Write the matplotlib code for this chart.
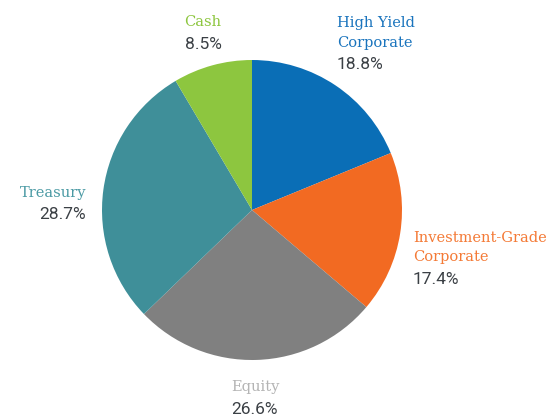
import matplotlib.pyplot as plt

# data
categories = ['High Yield\nCorporate', 'Investment-Grade\nCorporate', 'Equity', 'Treasury', 'Cash']
values = [18.8, 17.4, 26.6, 28.7, 8.5]
pct_labels = ['18.8%', '17.4%', '26.6%', '28.7%', '8.5%']

slice_colors = ['#0a6eb6', '#f26a22', '#808080', '#3f8f99', '#8dc63f']
label_colors = ['#1a74bd', '#f47a36', '#b4b4b4', '#4b9aa4', '#8dc63f']
pct_color = '#3b4045'

W, H = 550, 418
fig = plt.figure(figsize=(W / 100, H / 100), dpi=100)
ax = fig.add_axes([0, 0, 1, 1])

ax.pie(values, colors=slice_colors, startangle=90, counterclock=False,
       center=(252, H - 210), radius=150, wedgeprops=dict(linewidth=0))
ax.set_xlim(0, W)
ax.set_ylim(0, H)
ax.set_aspect('equal')
ax.axis('off')

name_font = dict(family='DejaVu Serif', size=10.5)
pct_font = dict(family='Roboto', size=12.5)

# label positions in pixel coords: (x, y of name first line, align)
label_pos = [
    (337, 21, 'left'),
    (413, 236, 'left'),
    (255, 386, 'center'),
    (86, 191, 'right'),
    (203, 21, 'center'),
]

for i, (x, y, ha) in enumerate(label_pos):
    lines = categories[i].split('\n')
    for k, line in enumerate(lines):
        ax.text(x, H - (y + 20 * k), line, color=label_colors[i], ha=ha,
                va='center_baseline', fontdict=name_font)
    py = y + 20 * (len(lines) - 1) + 22
    ax.text(x, H - py, pct_labels[i], color=pct_color, ha=ha,
            va='center_baseline', fontdict=pct_font)

fig.savefig('out.png', dpi=100)
